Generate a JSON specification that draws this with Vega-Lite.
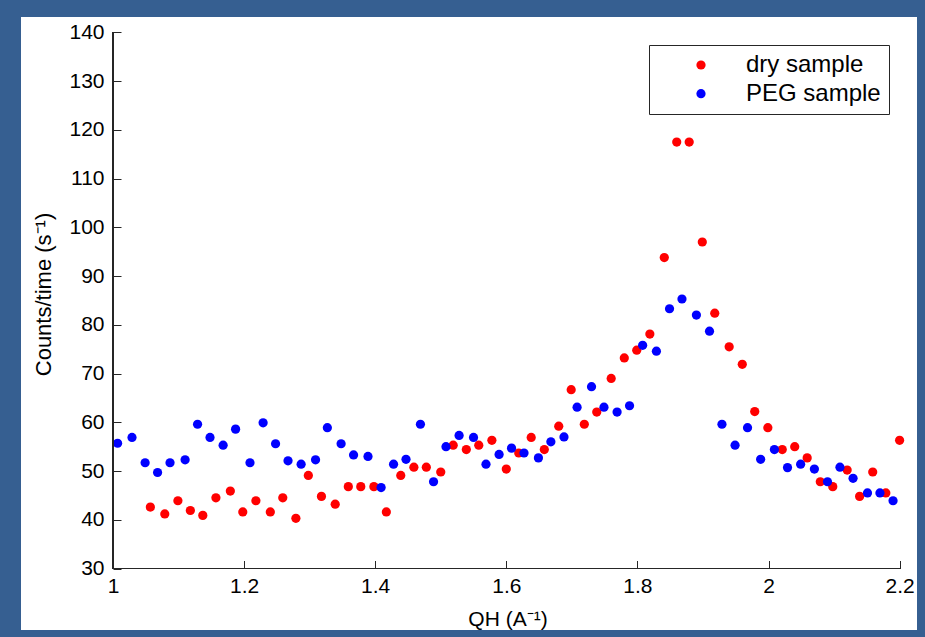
{
  "$schema": "https://vega.github.io/schema/vega-lite/v6.json",
  "width": 896,
  "height": 613,
  "autosize": {"type": "none"},
  "padding": {"left": 21, "top": 17, "right": 8, "bottom": 7},
  "background": "#365f91",
  "config": {
    "view": {"fill": "white", "stroke": null},
    "font": "Liberation Sans"
  },
  "resolve": {"axis": {"x": "independent", "y": "independent"}},
  "datasets": {
    "points": [
      {"q": 1.057, "c": 42.6, "s": "dry sample"},
      {"q": 1.079, "c": 41.2, "s": "dry sample"},
      {"q": 1.099, "c": 43.9, "s": "dry sample"},
      {"q": 1.118, "c": 41.9, "s": "dry sample"},
      {"q": 1.137, "c": 40.9, "s": "dry sample"},
      {"q": 1.157, "c": 44.5, "s": "dry sample"},
      {"q": 1.179, "c": 45.9, "s": "dry sample"},
      {"q": 1.198, "c": 41.6, "s": "dry sample"},
      {"q": 1.218, "c": 43.9, "s": "dry sample"},
      {"q": 1.240, "c": 41.6, "s": "dry sample"},
      {"q": 1.259, "c": 44.5, "s": "dry sample"},
      {"q": 1.279, "c": 40.3, "s": "dry sample"},
      {"q": 1.298, "c": 49.1, "s": "dry sample"},
      {"q": 1.318, "c": 44.8, "s": "dry sample"},
      {"q": 1.339, "c": 43.2, "s": "dry sample"},
      {"q": 1.359, "c": 46.8, "s": "dry sample"},
      {"q": 1.378, "c": 46.8, "s": "dry sample"},
      {"q": 1.398, "c": 46.8, "s": "dry sample"},
      {"q": 1.417, "c": 41.6, "s": "dry sample"},
      {"q": 1.439, "c": 49.1, "s": "dry sample"},
      {"q": 1.459, "c": 50.8, "s": "dry sample"},
      {"q": 1.478, "c": 50.8, "s": "dry sample"},
      {"q": 1.500, "c": 49.8, "s": "dry sample"},
      {"q": 1.519, "c": 55.3, "s": "dry sample"},
      {"q": 1.539, "c": 54.4, "s": "dry sample"},
      {"q": 1.558, "c": 55.3, "s": "dry sample"},
      {"q": 1.578, "c": 56.3, "s": "dry sample"},
      {"q": 1.600, "c": 50.4, "s": "dry sample"},
      {"q": 1.619, "c": 53.7, "s": "dry sample"},
      {"q": 1.638, "c": 56.9, "s": "dry sample"},
      {"q": 1.658, "c": 54.4, "s": "dry sample"},
      {"q": 1.680, "c": 59.2, "s": "dry sample"},
      {"q": 1.699, "c": 66.7, "s": "dry sample"},
      {"q": 1.719, "c": 59.6, "s": "dry sample"},
      {"q": 1.738, "c": 62.1, "s": "dry sample"},
      {"q": 1.760, "c": 69.0, "s": "dry sample"},
      {"q": 1.780, "c": 73.2, "s": "dry sample"},
      {"q": 1.799, "c": 74.8, "s": "dry sample"},
      {"q": 1.819, "c": 78.1, "s": "dry sample"},
      {"q": 1.841, "c": 93.8, "s": "dry sample"},
      {"q": 1.860, "c": 117.5, "s": "dry sample"},
      {"q": 1.879, "c": 117.5, "s": "dry sample"},
      {"q": 1.899, "c": 97.0, "s": "dry sample"},
      {"q": 1.918, "c": 82.4, "s": "dry sample"},
      {"q": 1.940, "c": 75.5, "s": "dry sample"},
      {"q": 1.960, "c": 71.9, "s": "dry sample"},
      {"q": 1.979, "c": 62.2, "s": "dry sample"},
      {"q": 1.999, "c": 58.9, "s": "dry sample"},
      {"q": 2.021, "c": 54.4, "s": "dry sample"},
      {"q": 2.040, "c": 55.0, "s": "dry sample"},
      {"q": 2.059, "c": 52.7, "s": "dry sample"},
      {"q": 2.079, "c": 47.8, "s": "dry sample"},
      {"q": 2.098, "c": 46.8, "s": "dry sample"},
      {"q": 2.120, "c": 50.2, "s": "dry sample"},
      {"q": 2.139, "c": 44.8, "s": "dry sample"},
      {"q": 2.159, "c": 49.8, "s": "dry sample"},
      {"q": 2.179, "c": 45.5, "s": "dry sample"},
      {"q": 2.200, "c": 56.3, "s": "dry sample"},
      {"q": 1.007, "c": 55.7, "s": "PEG sample"},
      {"q": 1.029, "c": 56.9, "s": "PEG sample"},
      {"q": 1.049, "c": 51.7, "s": "PEG sample"},
      {"q": 1.068, "c": 49.7, "s": "PEG sample"},
      {"q": 1.087, "c": 51.7, "s": "PEG sample"},
      {"q": 1.110, "c": 52.3, "s": "PEG sample"},
      {"q": 1.129, "c": 59.6, "s": "PEG sample"},
      {"q": 1.148, "c": 56.9, "s": "PEG sample"},
      {"q": 1.168, "c": 55.3, "s": "PEG sample"},
      {"q": 1.187, "c": 58.6, "s": "PEG sample"},
      {"q": 1.209, "c": 51.7, "s": "PEG sample"},
      {"q": 1.229, "c": 59.9, "s": "PEG sample"},
      {"q": 1.248, "c": 55.6, "s": "PEG sample"},
      {"q": 1.267, "c": 52.1, "s": "PEG sample"},
      {"q": 1.287, "c": 51.4, "s": "PEG sample"},
      {"q": 1.309, "c": 52.3, "s": "PEG sample"},
      {"q": 1.327, "c": 58.9, "s": "PEG sample"},
      {"q": 1.348, "c": 55.6, "s": "PEG sample"},
      {"q": 1.367, "c": 53.3, "s": "PEG sample"},
      {"q": 1.389, "c": 53.0, "s": "PEG sample"},
      {"q": 1.409, "c": 46.6, "s": "PEG sample"},
      {"q": 1.428, "c": 51.4, "s": "PEG sample"},
      {"q": 1.447, "c": 52.4, "s": "PEG sample"},
      {"q": 1.469, "c": 59.6, "s": "PEG sample"},
      {"q": 1.489, "c": 47.8, "s": "PEG sample"},
      {"q": 1.508, "c": 55.0, "s": "PEG sample"},
      {"q": 1.528, "c": 57.3, "s": "PEG sample"},
      {"q": 1.550, "c": 56.9, "s": "PEG sample"},
      {"q": 1.569, "c": 51.4, "s": "PEG sample"},
      {"q": 1.589, "c": 53.4, "s": "PEG sample"},
      {"q": 1.608, "c": 54.7, "s": "PEG sample"},
      {"q": 1.627, "c": 53.7, "s": "PEG sample"},
      {"q": 1.649, "c": 52.7, "s": "PEG sample"},
      {"q": 1.668, "c": 56.0, "s": "PEG sample"},
      {"q": 1.688, "c": 57.0, "s": "PEG sample"},
      {"q": 1.708, "c": 63.1, "s": "PEG sample"},
      {"q": 1.730, "c": 67.3, "s": "PEG sample"},
      {"q": 1.749, "c": 63.1, "s": "PEG sample"},
      {"q": 1.769, "c": 62.1, "s": "PEG sample"},
      {"q": 1.788, "c": 63.4, "s": "PEG sample"},
      {"q": 1.808, "c": 75.8, "s": "PEG sample"},
      {"q": 1.829, "c": 74.6, "s": "PEG sample"},
      {"q": 1.849, "c": 83.3, "s": "PEG sample"},
      {"q": 1.868, "c": 85.3, "s": "PEG sample"},
      {"q": 1.890, "c": 82.0, "s": "PEG sample"},
      {"q": 1.910, "c": 78.7, "s": "PEG sample"},
      {"q": 1.929, "c": 59.6, "s": "PEG sample"},
      {"q": 1.949, "c": 55.3, "s": "PEG sample"},
      {"q": 1.968, "c": 58.9, "s": "PEG sample"},
      {"q": 1.988, "c": 52.4, "s": "PEG sample"},
      {"q": 2.009, "c": 54.4, "s": "PEG sample"},
      {"q": 2.029, "c": 50.7, "s": "PEG sample"},
      {"q": 2.049, "c": 51.4, "s": "PEG sample"},
      {"q": 2.070, "c": 50.4, "s": "PEG sample"},
      {"q": 2.090, "c": 47.8, "s": "PEG sample"},
      {"q": 2.109, "c": 50.8, "s": "PEG sample"},
      {"q": 2.129, "c": 48.5, "s": "PEG sample"},
      {"q": 2.151, "c": 45.5, "s": "PEG sample"},
      {"q": 2.170, "c": 45.5, "s": "PEG sample"},
      {"q": 2.190, "c": 43.9, "s": "PEG sample"}
    ]
  },
  "data": {"name": "points"},
  "layer": [
    {
      "mark": {"type": "point", "filled": true, "opacity": 1, "size": 85, "strokeWidth": 0},
      "encoding": {
        "x": {
          "field": "q",
          "type": "quantitative",
          "scale": {"domain": [0.85965, 2.22654], "nice": false, "zero": false},
          "axis": {
            "orient": "bottom",
            "values": [1, 1.2, 1.4, 1.6, 1.8, 2, 2.2],
            "format": "~g",
            "offset": -61.5,
            "domain": false,
            "grid": false,
            "ticks": false,
            "tickSize": 0,
            "labelPadding": 7,
            "labelFontSize": 21,
            "labelColor": "black",
            "labelFlush": false,
            "labelOverlap": false,
            "title": "QH (A⁻¹)",
            "titleFontSize": 21,
            "titleFontWeight": "normal",
            "titleColor": "black",
            "titleX": 486.5,
            "titleY": 56.5,
            "titleAlign": "center",
            "titleBaseline": "alphabetic"
          }
        },
        "y": {
          "field": "c",
          "type": "quantitative",
          "scale": {"domain": [17.38, 143.17], "nice": false, "zero": false},
          "axis": {
            "orient": "left",
            "values": [30, 40, 50, 60, 70, 80, 90, 100, 110, 120, 130, 140],
            "format": "d",
            "offset": -92,
            "domain": false,
            "grid": false,
            "ticks": false,
            "tickSize": 0,
            "labelPadding": 9,
            "labelFontSize": 21,
            "labelColor": "black",
            "labelFlush": false,
            "labelOverlap": false,
            "title": "Counts/time (s⁻¹)",
            "titleFontSize": 22,
            "titleFontWeight": "normal",
            "titleColor": "black",
            "titleAngle": 270,
            "titleX": -63,
            "titleY": 277,
            "titleAlign": "center",
            "titleBaseline": "alphabetic"
          }
        },
        "color": {
          "field": "s",
          "type": "nominal",
          "scale": {"domain": ["dry sample", "PEG sample"], "range": ["#ff0000", "#0000ff"]},
          "legend": {
            "title": null,
            "orient": "none",
            "legendX": 628,
            "legendY": 28,
            "strokeColor": "#262626",
            "fillColor": "white",
            "padding": 8,
            "symbolOffset": 32,
            "labelOffset": 33,
            "labelFontSize": 24,
            "labelColor": "black",
            "symbolSize": 85,
            "symbolType": "circle",
            "symbolStrokeWidth": 0,
            "rowPadding": 4.7
          }
        }
      }
    },
    {
      "mark": {"type": "rule", "color": "#262626", "strokeWidth": 1},
      "encoding": {
        "x": {
          "datum": 1,
          "type": "quantitative",
          "axis": {
            "orient": "top",
            "values": [1, 1.2, 1.4, 1.6, 1.8, 2, 2.2],
            "offset": -551.5,
            "domain": false,
            "grid": false,
            "labels": false,
            "ticks": true,
            "tickSize": 8,
            "tickColor": "#262626",
            "title": null
          }
        },
        "x2": {"datum": 2.2},
        "y": {"datum": 30, "type": "quantitative", "axis": null}
      }
    },
    {
      "mark": {"type": "rule", "color": "#262626", "strokeWidth": 1},
      "encoding": {
        "x": {"datum": 1, "type": "quantitative", "axis": null},
        "y": {
          "datum": 30,
          "type": "quantitative",
          "axis": {
            "orient": "right",
            "values": [30, 40, 50, 60, 70, 80, 90, 100, 110, 120, 130, 140],
            "offset": -804,
            "domain": false,
            "grid": false,
            "labels": false,
            "ticks": true,
            "tickSize": 8,
            "tickColor": "#262626",
            "title": null
          }
        },
        "y2": {"datum": 140}
      }
    }
  ]
}
